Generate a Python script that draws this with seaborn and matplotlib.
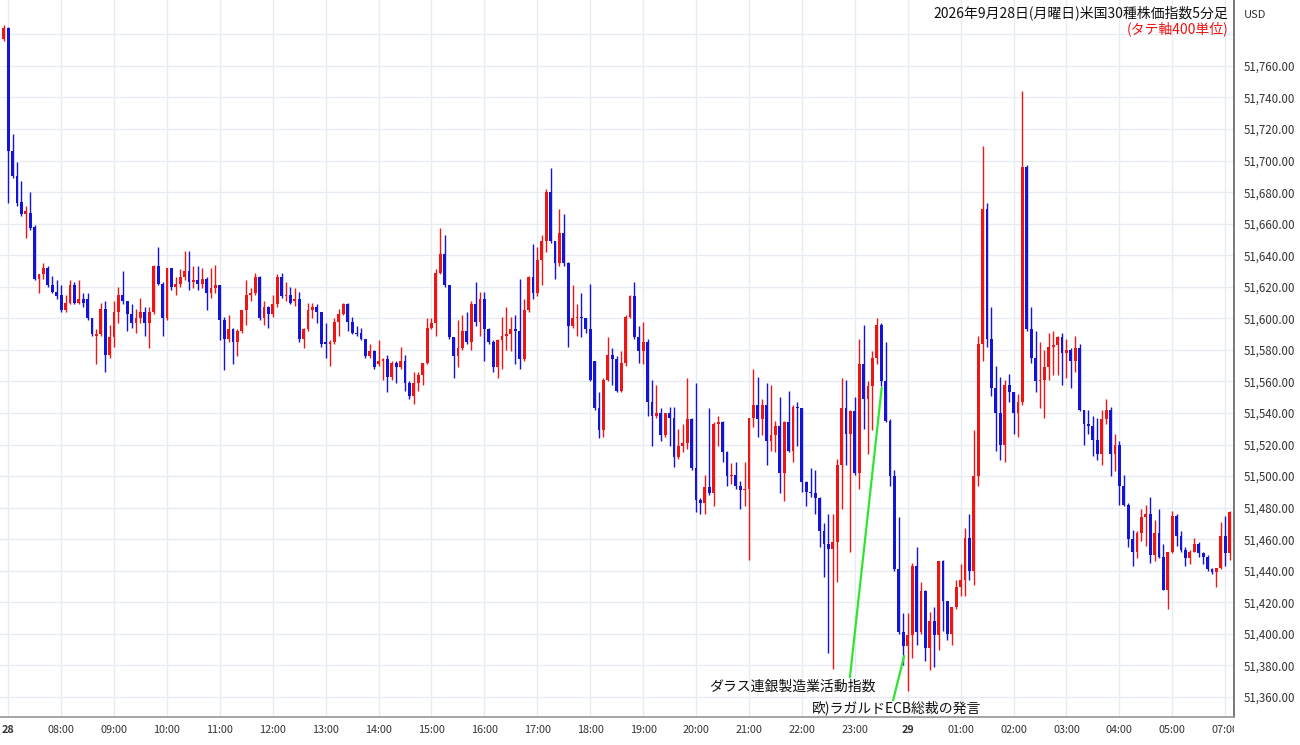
import numpy as np
import matplotlib
matplotlib.use("Agg")
import matplotlib.pyplot as plt
import seaborn as sns
from matplotlib.ticker import FuncFormatter
from matplotlib.transforms import Bbox, TransformedBbox

# 5 minute bars, US30, 28 Sep 2026 (JST). first bar = 05:55 of the previous session,
# then 07:00 on the 28th ... 07:05 on the 29th (no bars 06:00-06:55)
opens = [51777,
    51784, 51706, 51690, 51674, 51666, 51667, 51658, 51625, 51628, 51632, 51621, 51617,
    51615, 51605, 51610, 51621, 51610, 51612, 51612, 51600, 51589, 51590, 51606, 51577,
    51588, 51604, 51615, 51611, 51603, 51597, 51600, 51604, 51597, 51604, 51633, 51622,
    51600, 51632, 51620, 51622, 51626, 51630, 51623, 51624, 51622, 51625, 51616, 51619,
    51621, 51599, 51587, 51593, 51585, 51592, 51605, 51615, 51616, 51626, 51600, 51607,
    51603, 51609, 51626, 51614, 51615, 51611, 51612, 51587, 51593, 51605, 51607, 51604,
    51585, 51584, 51585, 51598, 51603, 51609, 51598, 51591, 51591, 51587, 51576, 51579,
    51571, 51573, 51574, 51563, 51572, 51569, 51573, 51559, 51551, 51559, 51564, 51572,
    51594, 51597, 51629, 51641, 51621, 51588, 51576, 51581, 51592, 51585, 51609, 51598,
    51612, 51593, 51585, 51569, 51586, 51589, 51590, 51593, 51592, 51574, 51605, 51626,
    51616, 51637, 51649, 51680, 51649, 51635, 51654, 51635, 51595, 51600, 51601, 51600,
    51593, 51573, 51543, 51529, 51561, 51577, 51574, 51554, 51572, 51601, 51614, 51588,
    51579, 51585, 51547, 51538, 51540, 51526, 51540, 51537, 51512, 51519, 51521, 51536,
    51505, 51485, 51483, 51493, 51489, 51533, 51534, 51515, 51500, 51501, 51494, 51491,
    51492, 51537, 51545, 51536, 51545, 51522, 51526, 51532, 51502, 51534, 51516, 51544,
    51543, 51496, 51490, 51489, 51486, 51465, 51457, 51454, 51458, 51507, 51543, 51527,
    51541, 51502, 51571, 51549, 51557, 51575, 51596, 51560, 51535, 51500, 51441, 51401,
    51392, 51399, 51443, 51401, 51427, 51391, 51408, 51399, 51446, 51421, 51400, 51417,
    51430, 51434, 51461, 51440, 51500, 51584, 51669, 51587, 51556, 51540, 51520, 51558,
    51553, 51540, 51547, 51696, 51593, 51575, 51560, 51561, 51569, 51582, 51583, 51588,
    51578, 51580, 51573, 51581, 51542, 51533, 51532, 51523, 51514, 51536, 51542, 51514,
    51520, 51494, 51482, 51460, 51452, 51464, 51474, 51476, 51450, 51464, 51449, 51428,
    51452, 51475, 51462, 51453, 51448, 51452, 51457, 51451, 51449, 51441, 51439, 51442,
    51462, 51451]

highs = [51786,
    51785, 51717, 51699, 51687, 51671, 51680, 51659, 51628, 51635, 51633, 51627, 51624,
    51621, 51615, 51624, 51623, 51624, 51616, 51616, 51600, 51593, 51610, 51611, 51596,
    51611, 51620, 51630, 51611, 51609, 51606, 51613, 51607, 51607, 51634, 51645, 51623,
    51632, 51632, 51626, 51631, 51643, 51643, 51633, 51633, 51632, 51626, 51632, 51634,
    51621, 51601, 51602, 51594, 51593, 51605, 51624, 51619, 51629, 51627, 51611, 51608,
    51615, 51628, 51629, 51623, 51620, 51619, 51617, 51594, 51610, 51610, 51609, 51604,
    51597, 51586, 51600, 51606, 51610, 51610, 51601, 51595, 51594, 51587, 51584, 51580,
    51586, 51575, 51577, 51573, 51573, 51582, 51577, 51560, 51566, 51566, 51572, 51600,
    51600, 51631, 51657, 51653, 51621, 51588, 51599, 51602, 51604, 51611, 51623, 51617,
    51617, 51594, 51586, 51587, 51601, 51607, 51601, 51602, 51625, 51612, 51627, 51647,
    51645, 51653, 51682, 51695, 51649, 51669, 51666, 51636, 51621, 51609, 51616, 51600,
    51622, 51573, 51553, 51562, 51588, 51581, 51576, 51579, 51602, 51615, 51623, 51595,
    51598, 51587, 51561, 51558, 51543, 51540, 51544, 51544, 51530, 51533, 51562, 51537,
    51559, 51486, 51501, 51543, 51534, 51538, 51535, 51516, 51508, 51509, 51497, 51509,
    51537, 51568, 51563, 51549, 51559, 51558, 51535, 51550, 51535, 51554, 51545, 51547,
    51543, 51497, 51505, 51504, 51487, 51470, 51476, 51476, 51511, 51562, 51561, 51542,
    51550, 51587, 51596, 51560, 51579, 51600, 51597, 51585, 51536, 51504, 51474, 51413,
    51413, 51445, 51455, 51433, 51428, 51414, 51417, 51446, 51447, 51421, 51417, 51434,
    51444, 51467, 51476, 51529, 51589, 51709, 51673, 51607, 51570, 51563, 51561, 51565,
    51553, 51552, 51744, 51697, 51607, 51592, 51585, 51580, 51591, 51592, 51589, 51591,
    51587, 51581, 51589, 51584, 51542, 51542, 51538, 51537, 51542, 51549, 51544, 51527,
    51522, 51501, 51483, 51466, 51465, 51479, 51482, 51487, 51472, 51479, 51457, 51452,
    51478, 51476, 51465, 51455, 51453, 51461, 51458, 51452, 51450, 51442, 51442, 51471,
    51475, 51478]

lows = [51776,
    51673, 51689, 51671, 51665, 51651, 51656, 51624, 51616, 51625, 51620, 51616, 51612,
    51604, 51604, 51609, 51609, 51609, 51607, 51599, 51589, 51571, 51589, 51566, 51575,
    51582, 51597, 51609, 51592, 51594, 51591, 51597, 51589, 51581, 51603, 51621, 51589,
    51599, 51618, 51615, 51620, 51624, 51618, 51619, 51618, 51619, 51605, 51613, 51616,
    51586, 51567, 51585, 51571, 51576, 51591, 51596, 51611, 51615, 51599, 51596, 51594,
    51601, 51607, 51613, 51611, 51609, 51608, 51585, 51581, 51592, 51600, 51597, 51582,
    51575, 51570, 51584, 51589, 51602, 51592, 51590, 51589, 51586, 51575, 51575, 51568,
    51570, 51561, 51553, 51561, 51559, 51568, 51554, 51549, 51546, 51554, 51558, 51571,
    51593, 51589, 51628, 51620, 51587, 51562, 51569, 51580, 51584, 51580, 51595, 51589,
    51573, 51584, 51566, 51562, 51568, 51580, 51579, 51571, 51568, 51573, 51604, 51612,
    51614, 51621, 51642, 51648, 51625, 51633, 51633, 51582, 51594, 51589, 51588, 51591,
    51560, 51542, 51524, 51525, 51560, 51558, 51553, 51553, 51570, 51600, 51587, 51572,
    51571, 51538, 51519, 51537, 51522, 51525, 51519, 51506, 51511, 51515, 51517, 51504,
    51477, 51476, 51476, 51488, 51481, 51519, 51509, 51494, 51495, 51492, 51479, 51481,
    51447, 51531, 51525, 51526, 51507, 51516, 51515, 51489, 51484, 51515, 51509, 51519,
    51490, 51481, 51487, 51476, 51455, 51436, 51388, 51378, 51433, 51479, 51507, 51452,
    51501, 51492, 51530, 51514, 51529, 51571, 51557, 51534, 51494, 51440, 51400, 51380,
    51364, 51385, 51393, 51400, 51383, 51377, 51379, 51390, 51402, 51396, 51393, 51416,
    51424, 51424, 51434, 51431, 51494, 51573, 51582, 51551, 51516, 51510, 51509, 51547,
    51527, 51525, 51545, 51592, 51572, 51553, 51543, 51537, 51561, 51564, 51564, 51558,
    51562, 51556, 51566, 51541, 51520, 51527, 51513, 51510, 51507, 51533, 51500, 51503,
    51482, 51481, 51455, 51443, 51448, 51459, 51456, 51445, 51446, 51448, 51428, 51416,
    51451, 51456, 51452, 51443, 51444, 51452, 51449, 51444, 51440, 51438, 51430, 51441,
    51443, 51447]

closes = [51784,
    51706, 51690, 51673, 51666, 51668, 51657, 51625, 51628, 51632, 51621, 51617, 51614,
    51605, 51610, 51621, 51610, 51612, 51610, 51600, 51590, 51590, 51606, 51577, 51588,
    51604, 51615, 51611, 51603, 51597, 51600, 51604, 51597, 51604, 51633, 51622, 51600,
    51632, 51620, 51622, 51626, 51630, 51623, 51624, 51622, 51625, 51616, 51619, 51621,
    51599, 51587, 51593, 51585, 51592, 51605, 51615, 51616, 51626, 51600, 51607, 51603,
    51609, 51626, 51614, 51615, 51610, 51612, 51587, 51593, 51605, 51607, 51604, 51584,
    51584, 51585, 51598, 51603, 51609, 51598, 51591, 51590, 51587, 51576, 51579, 51569,
    51573, 51574, 51563, 51572, 51569, 51573, 51559, 51551, 51559, 51564, 51572, 51594,
    51597, 51629, 51641, 51621, 51588, 51576, 51581, 51592, 51585, 51609, 51598, 51612,
    51593, 51585, 51569, 51586, 51589, 51590, 51593, 51592, 51574, 51605, 51626, 51616,
    51637, 51649, 51680, 51649, 51635, 51654, 51635, 51595, 51600, 51601, 51600, 51593,
    51561, 51543, 51529, 51561, 51577, 51574, 51554, 51572, 51601, 51614, 51588, 51579,
    51585, 51547, 51538, 51540, 51526, 51540, 51537, 51512, 51519, 51521, 51536, 51505,
    51485, 51483, 51493, 51489, 51533, 51534, 51515, 51500, 51501, 51494, 51491, 51492,
    51537, 51545, 51536, 51545, 51522, 51526, 51532, 51502, 51534, 51516, 51544, 51543,
    51496, 51490, 51489, 51486, 51465, 51457, 51454, 51458, 51507, 51543, 51527, 51541,
    51502, 51571, 51549, 51557, 51575, 51596, 51560, 51535, 51500, 51441, 51401, 51392,
    51399, 51443, 51401, 51427, 51391, 51408, 51399, 51446, 51421, 51400, 51417, 51430,
    51434, 51461, 51440, 51500, 51584, 51669, 51587, 51556, 51540, 51520, 51558, 51553,
    51540, 51547, 51696, 51593, 51575, 51560, 51561, 51569, 51582, 51583, 51588, 51578,
    51580, 51573, 51581, 51542, 51533, 51532, 51523, 51514, 51536, 51542, 51514, 51520,
    51494, 51482, 51460, 51452, 51464, 51474, 51476, 51450, 51464, 51449, 51428, 51452,
    51475, 51462, 51453, 51448, 51452, 51457, 51451, 51449, 51441, 51439, 51442, 51462,
    51451, 51477]

# hour labels, one every 12 bars starting at the 07:00 bar
tick_labels = ["28", "08:00", "09:00", "10:00", "11:00", "12:00", "13:00", "14:00",
               "15:00", "16:00", "17:00", "18:00", "19:00", "20:00", "21:00", "22:00",
               "23:00", "29", "01:00", "02:00", "03:00", "04:00", "05:00", "07:00"]

# events: bar index in the arrays and price the line points at
event_texts = ["ダラス連銀製造業活動指数", "欧)ラガルドECB総裁の発言"]
event_bars = [199.1, 204.2]
event_prices = [51556, 51386]

title = "2026年9月28日(月曜日)米国30種株価指数5分足"
subtitle = "(タテ軸400単位)"

UP = "#ee1515"
DOWN = "#1414d8"
GRID = "#e6ecf2"

sns.set_theme(style="white")
plt.rcParams["font.family"] = ["Noto Sans CJK JP", "DejaVu Sans"]

o = np.array(opens, dtype=float)
h = np.array(highs, dtype=float)
l = np.array(lows, dtype=float)
c = np.array(closes, dtype=float)
x = np.arange(len(c))
colors = np.where(c > o, UP, DOWN)

fig = plt.figure(figsize=(13, 7.45), dpi=100)
ax = fig.add_axes([0, 28 / 745, 1234 / 1300, 717 / 745])

# candles: wicks then bodies
ax.vlines(x, l, h, colors=colors, linewidth=1.0, zorder=3)
body = np.maximum(np.abs(c - o), 0.8)
ax.bar(x, body, bottom=np.minimum(o, c), width=0.64, color=colors, linewidth=0, zorder=4)

ax.set_xlim(-0.86, 279.0)
ax.set_ylim(51347.3, 51801.8)

tick_bars = [1 + 12 * k for k in range(len(tick_labels))]
ax.set_xticks(tick_bars)
ax.set_xticklabels(tick_labels)
ax.set_yticks(np.arange(51360, 51800, 20))
ax.yaxis.set_major_formatter(FuncFormatter(lambda v, p: "" if v > 51770 else f"{v:,.2f}"))
ax.yaxis.tick_right()

ax.grid(True, color=GRID, linewidth=1.0, zorder=0)
ax.tick_params(axis="y", length=0, pad=7, labelsize=8.3, labelcolor="#333333")
ax.tick_params(axis="x", length=0, pad=6, labelsize=7.8, labelcolor="#333333")

for s in ["left", "top"]:
    ax.spines[s].set_visible(False)
ax.spines["right"].set_color("#666666")
ax.spines["bottom"].set_color("#999999")

# clip tick labels at the price axis line, bold day labels
clip = TransformedBbox(Bbox([[0, 0], [1234 / 1300, 1]]), fig.transFigure)
for lab in ax.get_xticklabels():
    lab.set_clip_box(clip)
    lab.set_clip_on(True)
    if ":" not in lab.get_text():
        lab.set_fontweight("bold")

# event lines and labels
ax.annotate("", xy=(event_bars[0], event_prices[0]), xytext=(191.9, 51372.5),
            arrowprops=dict(arrowstyle="-", color="#2ee62e", lw=1.6, shrinkA=0, shrinkB=0), zorder=5)
ax.annotate("", xy=(event_bars[1], event_prices[1]), xytext=(201.7, 51358),
            arrowprops=dict(arrowstyle="-", color="#2ee62e", lw=1.6, shrinkA=0, shrinkB=0), zorder=5)
ax.text(197.8, 51366.3, event_texts[0], ha="right", va="center", fontsize=10, color="#111111", zorder=6)
ax.text(183.3, 51353.0, event_texts[1], ha="left", va="center", fontsize=10, color="#111111", zorder=6)

fig.text(1228 / 1300, 1 - 13 / 745, title, ha="right", va="center", fontsize=10, color="#111111")
fig.text(1228 / 1300, 1 - 29 / 745, subtitle, ha="right", va="center", fontsize=10, color="#ee1111")
fig.text(1255 / 1300, 1 - 15 / 745, "USD", ha="center", va="center", fontsize=8, color="#333333")

fig.savefig("out.png", dpi=100)
